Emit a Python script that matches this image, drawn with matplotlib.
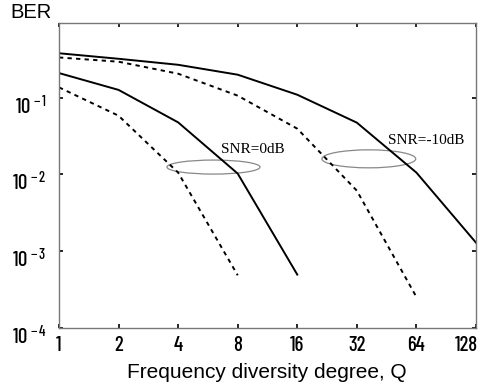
import matplotlib
matplotlib.use("Agg")
import matplotlib.pyplot as plt
from matplotlib import font_manager
from matplotlib.patches import Ellipse
from matplotlib.transforms import ScaledTranslation

names = {f.name for f in font_manager.fontManager.ttflist}
narrow = "DejaVu Sans"
for cand in ["Liberation Sans Narrow", "Arial Narrow", "Nimbus Sans Narrow",
             "Barlow Condensed", "Archivo Narrow", "Asap Condensed"]:
    if cand in names:
        narrow = cand
        break

# Data
q_ticks = [1, 2, 4, 8, 16, 32, 64, 128]
q_m10_solid = [1, 2, 4, 8, 16, 32, 64, 128]
ber_m10_solid = [0.379, 0.321, 0.268, 0.199, 0.109, 0.0471, 0.0105, 0.00128]
q_m10_dash = [1, 2, 4, 8, 16, 32, 64]
ber_m10_dash = [0.334, 0.294, 0.205, 0.106, 0.0393, 0.0061, 0.00025]
q_0_solid = [1, 2, 4, 8, 16]
ber_0_solid = [0.209, 0.126, 0.0475, 0.0102, 0.00049]
q_0_dash = [1, 2, 4, 8]
ber_0_dash = [0.136, 0.058, 0.0105, 0.00048]
y_ticks = [1e-4, 1e-3, 1e-2, 1e-1]
y_ticklabels = [r"$\mathregular{10^{\,-4}}$", r"$\mathregular{10^{\,-3}}$",
                r"$\mathregular{10^{\,-2}}$", r"$\mathregular{10^{\,-1}}$"]

plt.rcParams["mathtext.fontset"] = "custom"
plt.rcParams["mathtext.rm"] = narrow
plt.rcParams["mathtext.it"] = narrow
plt.rcParams["font.family"] = ["Liberation Sans", "DejaVu Sans"]

fig = plt.figure(figsize=(4.8, 3.89), dpi=100)
ax = fig.add_axes([59/480, 1-327.5/389, 417/480, 305/389])

lw = 1.4
ax.plot(q_m10_solid, ber_m10_solid, color="black", lw=lw)
ax.plot(q_m10_dash, ber_m10_dash, color="black", lw=lw, ls=(0, (2.2, 2.2)))
ax.plot(q_0_solid, ber_0_solid, color="black", lw=lw)
ax.plot(q_0_dash, ber_0_dash, color="black", lw=lw, ls=(0, (2.2, 2.2)))

ax.set_xscale("log", base=2)
ax.set_yscale("log")
ax.set_xlim(1, 128)
ax.set_ylim(1e-4, 10**-0.02)
ax.set_xticks(q_ticks)
ax.set_xticklabels([str(v) for v in q_ticks], fontfamily=narrow, fontsize=15,
                   fontweight="medium")
ax.set_yticks(y_ticks)
ax.set_yticklabels(y_ticklabels, fontsize=15, fontfamily=narrow, fontweight="medium")
ax.minorticks_off()
ax.tick_params(direction="in", length=3, width=1.2, top=True, right=True)
ax.tick_params(axis="x", pad=6)
ax.tick_params(axis="y", pad=9)
for s in ax.spines.values():
    s.set_color("#777777")
    s.set_linewidth(1.0)

# shift y tick labels slightly down, last x label right-aligned to fit
for lab in ax.get_yticklabels():
    lab.set_transform(lab.get_transform() + ScaledTranslation(0, -7/100, fig.dpi_scale_trans))
xl = ax.get_xticklabels()
xl[-1].set_horizontalalignment("right")
xl[-1].set_transform(xl[-1].get_transform() + ScaledTranslation(2/100, 0, fig.dpi_scale_trans))

ax.add_patch(Ellipse((0.3705, 0.526), 0.223, 0.046, transform=ax.transAxes,
                     fill=False, ec="#888888", lw=0.9))
ax.add_patch(Ellipse((0.743, 0.553), 0.225, 0.059, transform=ax.transAxes,
                     fill=False, ec="#888888", lw=0.9))
ax.text(0.388, 0.585, "SNR=0dB", transform=ax.transAxes, fontfamily="Liberation Serif",
        fontsize=11, va="center", ha="left")
ax.text(0.789, 0.612, "SNR=-10dB", transform=ax.transAxes, fontfamily="Liberation Serif",
        fontsize=11, va="center", ha="left")

fig.text(10/480, 1-13/389, "BER", fontsize=14.5, va="center", ha="left")
fig.text(267/480, 1-378/389, "Frequency diversity degree, Q", fontsize=15,
         va="baseline", ha="center")

fig.savefig("out.png", dpi=100)
